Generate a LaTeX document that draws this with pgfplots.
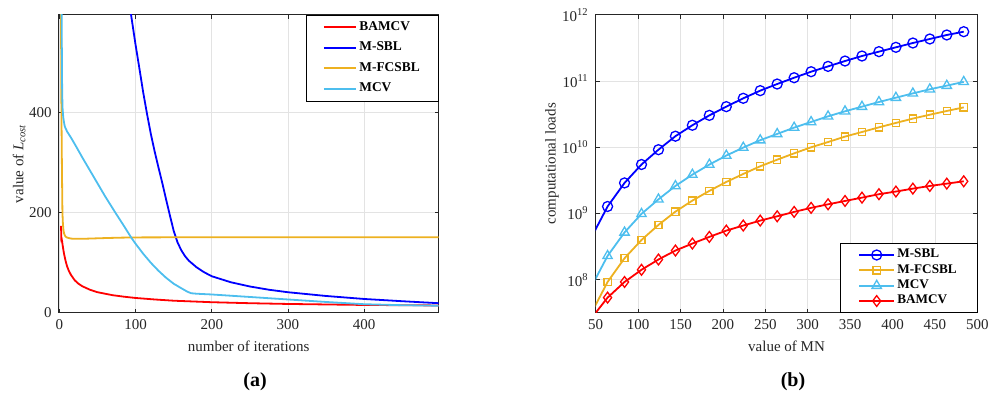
\documentclass[border=0pt]{standalone}
\usepackage{fontspec}
\setmainfont{Liberation Serif}
\usepackage{pgfplots}
\pgfplotsset{compat=1.18}
\definecolor{mred}{rgb}{1,0,0}
\definecolor{mblue}{rgb}{0,0,1}
\definecolor{morange}{rgb}{0.929,0.694,0.125}
\definecolor{mcyan}{rgb}{0.302,0.745,0.933}
\definecolor{axgray}{rgb}{0.15,0.15,0.15}
\pgfplotsset{mstyle/.style={
  scale only axis,
  axis line style={axgray, line width=0.5pt},
  tick style={axgray, line width=0.4pt},
  tick align=inside, major tick length=2pt, minor tick length=0pt,
  grid=major, grid style={gray!22, line width=0.4pt},
  ticklabel style={font=\fontsize{7.5}{9}\selectfont, text=axgray},
  label style={font=\fontsize{7.5}{9}\selectfont, text=axgray},
  /pgf/number format/assume math mode=true,
  legend cell align=left,
}}
\begin{document}
\begin{tikzpicture}
\useasboundingbox (0,0) rectangle (500pt,197pt);
\begin{axis}[mstyle,
  at={(29.35pt,40.65pt)}, anchor=south west,
  width=190pt, height=149pt,
  xmin=-1, xmax=498, ymin=-1, ymax=596,
  xtick={0,100,200,300,400}, ytick={0,200,400},
  xlabel={number of iterations},
  ylabel={value of \textit{L}\textsubscript{\textit{cost}}},
  xlabel style={at={(axis description cs:0.5,-0.114)}, anchor=center},
  ylabel style={at={(axis description cs:-0.104,0.5)}, anchor=center},
  legend style={at={(1,1)}, anchor=north east, draw=black, line width=0.4pt,
    font=\fontsize{6.7}{7.5}\selectfont\bfseries, fill=white, text=black,
    inner xsep=8.2pt, inner ysep=2.1pt, row sep=2.1pt, nodes={inner sep=1.1pt}},
  legend image code/.code={\draw[#1, line width=1pt] (0pt,0pt) -- (16.2pt,0pt);},
]
\addplot[mred, line width=0.9pt] coordinates {
(2,173) (2.3,160) (2.6,140) (3,146) (3.5,142) (4,136) (5,126) (6,117) (7,110) (8,103) (10,92) (12,84) (15,75) (20,64) (25,57) (30,52) (40,45) (50,40) (60,37) (70,34) (85,31) (100,28.5) (125,25.5) (150,23) (175,21.5) (200,20) (250,18) (300,16.5) (350,15.5) (400,14.5) (450,14) (498,13.5)};
\addlegendentry{BAMCV}
\addplot[mblue, line width=0.9pt] coordinates {
(88,700) (94,596) (100,535) (105,488) (110,440) (115,397) (120,357) (125,322) (130,290) (135,259) (140,226) (145,194) (150,163) (155,140) (160,124) (165,112) (170,103) (180,90) (190,80) (200,72) (225,60) (250,51.5) (275,45) (300,40) (350,32.5) (400,26.5) (450,22) (498,18)};
\addlegendentry{M-SBL}
\addplot[morange, line width=0.9pt] coordinates {
(1,900) (2,600) (2.6,400) (3.3,280) (3.9,200) (4.5,178) (5.2,165) (6,158) (7,154) (8,151.5) (10,149.5) (15,147.5) (20,147) (30,147) (40,147.5) (60,148.5) (80,149.3) (100,149.8) (150,150) (498,150)};
\addlegendentry{M-FCSBL}
\addplot[mcyan, line width=0.9pt] coordinates {
(1,1000) (2,800) (3,560) (3.5,450) (4,410) (5,390) (6,380) (7,372) (10,362) (15,350) (20,337) (30,310) (40,284) (50,258) (60,232) (74,198) (85,172) (94,150) (100,137) (110,117) (120,99) (130,83) (140,69) (150,57) (160,48) (168,41) (173,38) (180,37) (200,35.5) (250,30.5) (300,25.5) (350,20.5) (400,16) (450,14) (498,13)};
\addlegendentry{MCV}
\end{axis}
\begin{axis}[mstyle,
  at={(297.85pt,40.65pt)}, anchor=south west,
  width=190.8pt, height=149pt,
  ymode=log,
  xmin=50, xmax=500, ymin=3.2e7, ymax=1e12,
  xtick={50,100,...,500},
  ytick={1e8,1e9,1e10,1e11,1e12},
  yticklabels={10\textsuperscript{8},10\textsuperscript{9},10\textsuperscript{10},10\textsuperscript{11},10\textsuperscript{12}},
  xlabel={value of MN},
  ylabel={computational loads},
  xlabel style={at={(axis description cs:0.5,-0.114)}, anchor=center},
  ylabel style={at={(axis description cs:-0.1143,0.5)}, anchor=center},
  legend style={at={(1,0)}, anchor=south east, draw=black, line width=0.4pt,
    font=\fontsize{6.6}{7.5}\selectfont\bfseries, fill=white, text=black,
    inner xsep=9pt, inner ysep=1.6pt, row sep=-0.4pt, nodes={inner sep=1.1pt}},
  legend image code/.code={\draw[mark repeat=2, mark phase=2, #1] plot coordinates {(0pt,0pt) (8.75pt,0pt) (17.5pt,0pt)};},
  every axis plot/.append style={line width=0.9pt, mark options={solid, fill=none, line width=0.65pt}},
]
\addplot[mblue, mark=o, mark size=2.5pt] coordinates {
(44,4.16e8) (64,1.28e9) (84,2.9e9) (104,5.5e9) (124,9.2e9) (144,1.47e10) (164,2.15e10) (184,3.03e10) (204,4.1e10) (224,5.48e10) (244,7.15e10) (264,9.0e10) (284,1.12e11) (304,1.38e11) (324,1.66e11) (344,2.0e11) (364,2.38e11) (384,2.77e11) (404,3.22e11) (424,3.74e11) (444,4.30e11) (464,4.94e11) (484,5.54e11)};
\addlegendentry{M-SBL}
\addplot[morange, mark=square, mark size=1.8pt] coordinates {
(44,3.0e7) (64,9.3e7) (84,2.12e8) (104,4.0e8) (124,6.75e8) (144,1.07e9) (164,1.57e9) (184,2.2e9) (204,3.0e9) (224,3.96e9) (244,5.17e9) (264,6.5e9) (284,8.1e9) (304,1.0e10) (324,1.2e10) (344,1.45e10) (364,1.7e10) (384,2.0e10) (404,2.33e10) (424,2.71e10) (444,3.1e10) (464,3.53e10) (484,4.0e10)};
\addlegendentry{M-FCSBL}
\addplot[mcyan, mark=triangle, mark size=2.7pt] coordinates {
(44,7.5e7) (64,2.3e8) (84,5.2e8) (104,9.9e8) (124,1.64e9) (144,2.61e9) (164,3.87e9) (184,5.48e9) (204,7.5e9) (224,9.9e9) (244,1.28e10) (264,1.59e10) (284,1.98e10) (304,2.41e10) (324,2.93e10) (344,3.49e10) (364,4.1e10) (384,4.82e10) (404,5.6e10) (424,6.5e10) (444,7.5e10) (464,8.5e10) (484,9.7e10)};
\addlegendentry{MCV}
\addplot[mred, mark=diamond, mark size=2.7pt] coordinates {
(44,2.55e7) (64,5.4e7) (84,9.3e7) (104,1.42e8) (124,2.03e8) (144,2.77e8) (164,3.53e8) (184,4.45e8) (204,5.54e8) (224,6.6e8) (244,7.84e8) (264,9.1e8) (284,1.06e9) (304,1.22e9) (324,1.38e9) (344,1.55e9) (364,1.74e9) (384,1.96e9) (404,2.15e9) (424,2.38e9) (444,2.61e9) (464,2.83e9) (484,3.07e9)};
\addlegendentry{BAMCV}
\end{axis}
\node[font=\fontsize{10}{12}\selectfont\bfseries] at (127.5pt,6pt) {(a)};
\node[font=\fontsize{10}{12}\selectfont\bfseries] at (396.5pt,6pt) {(b)};
\end{tikzpicture}
\end{document}
